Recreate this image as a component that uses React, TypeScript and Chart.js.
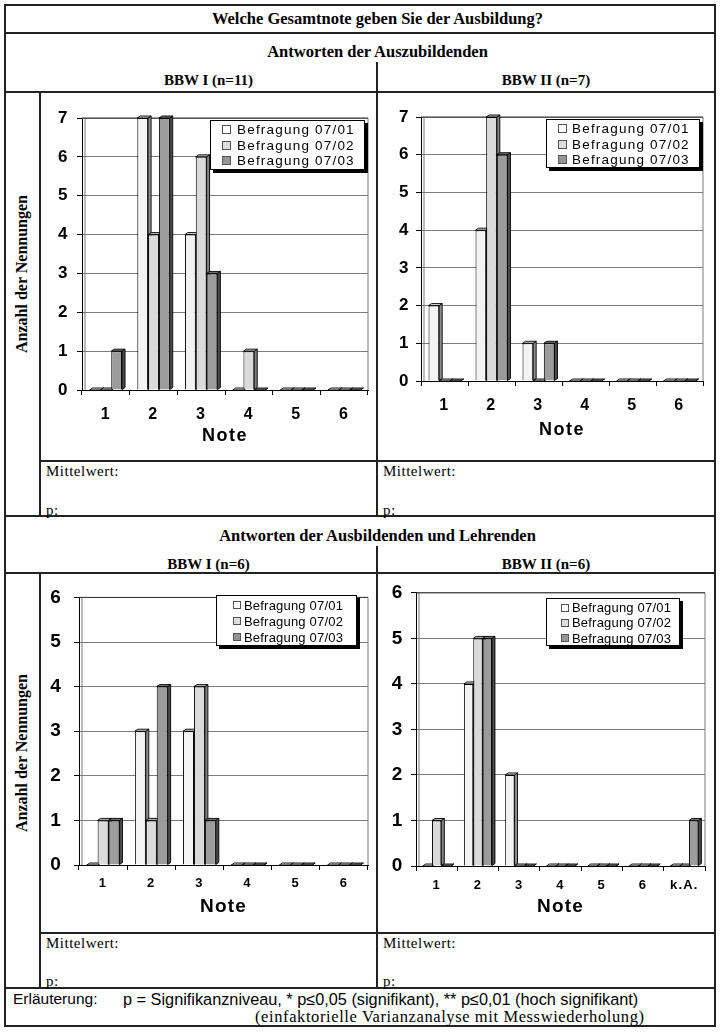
import React, { useEffect, useRef } from "react";
import { Chart, registerables } from "chart.js";

Chart.register(...registerables);

// ---------- data ----------
const seriesNames = ["Befragung 07/01", "Befragung 07/02", "Befragung 07/03"];
const noteLabels = ["1", "2", "3", "4", "5", "6"];
const noteLabelsKA = ["1", "2", "3", "4", "5", "6", "k.A."];

// Antworten der Auszubildenden, BBW I (n=11)
const azubiBBW1_0701 = [0, 7, 4, 0, 0, 0];
const azubiBBW1_0702 = [0, 4, 6, 1, 0, 0];
const azubiBBW1_0703 = [1, 7, 3, 0, 0, 0];

// Antworten der Auszubildenden, BBW II (n=7)
const azubiBBW2_0701 = [2, 4, 1, 0, 0, 0];
const azubiBBW2_0702 = [0, 7, 0, 0, 0, 0];
const azubiBBW2_0703 = [0, 6, 1, 0, 0, 0];

// Antworten der Ausbildenden und Lehrenden, BBW I (n=6)
const lehrBBW1_0701 = [0, 3, 3, 0, 0, 0];
const lehrBBW1_0702 = [1, 1, 4, 0, 0, 0];
const lehrBBW1_0703 = [1, 4, 1, 0, 0, 0];

// Antworten der Ausbildenden und Lehrenden, BBW II (n=6)
const lehrBBW2_0701 = [0, 4, 2, 0, 0, 0, 0];
const lehrBBW2_0702 = [1, 5, 0, 0, 0, 0, 0];
const lehrBBW2_0703 = [0, 5, 0, 0, 0, 0, 1];

// ---------- styles ----------
const SERIF = '"Liberation Serif", "Times New Roman", serif';
const SANS = '"Liberation Sans", Arial, sans-serif';
const FRONT = ["#f3f3f3", "#dadada", "#9c9c9c"];
const SIDE = ["#8e8e8e", "#808080", "#4a4a4a"];
const TOPC = ["#d6d6d6", "#bdbdbd", "#777777"];
const SWATCH = ["#ffffff", "#dcdcdc", "#969696"];

const threeD = {
  id: "threeD",
  beforeDatasetsDraw(chart: any) {
    const ctx = chart.ctx;
    const dx = 3;
    const dy = 2;
    chart.data.datasets.forEach((_ds: any, i: number) => {
      const meta = chart.getDatasetMeta(i);
      meta.data.forEach((bar: any) => {
        const { x, y, base, width } = bar.getProps(["x", "y", "base", "width"], true);
        const l = x - width / 2;
        const r = x + width / 2;
        ctx.save();
        ctx.lineWidth = 0.9;
        ctx.strokeStyle = "#000";
        ctx.beginPath();
        ctx.moveTo(r, y);
        ctx.lineTo(r + dx, y - dy);
        ctx.lineTo(r + dx, base - dy);
        ctx.lineTo(r, base);
        ctx.closePath();
        ctx.fillStyle = SIDE[i];
        ctx.fill();
        ctx.stroke();
        ctx.beginPath();
        ctx.moveTo(l, y);
        ctx.lineTo(l + dx, y - dy);
        ctx.lineTo(r + dx, y - dy);
        ctx.lineTo(r, y);
        ctx.closePath();
        ctx.fillStyle = TOPC[i];
        ctx.fill();
        ctx.stroke();
        ctx.restore();
      });
    });
  },
};

const frame = {
  id: "frame",
  beforeDatasetsDraw(chart: any) {
    const { ctx, chartArea: a } = chart;
    ctx.save();
    ctx.strokeStyle = "#7a7a7a";
    ctx.lineWidth = 1;
    ctx.beginPath();
    ctx.moveTo(a.right, a.top);
    ctx.lineTo(a.right, a.bottom);
    ctx.moveTo(a.left + 3, a.top);
    ctx.lineTo(a.left + 3, a.bottom);
    ctx.stroke();
    ctx.strokeStyle = "#333";
    ctx.beginPath();
    ctx.moveTo(a.left, a.top);
    ctx.lineTo(a.right, a.top);
    ctx.stroke();
    ctx.restore();
  },
};

const spacing = {
  id: "spacing",
  beforeDraw(chart: any, _a: any, opts: any) {
    chart.ctx.letterSpacing = opts.ls || "0px";
  },
  afterDraw(chart: any) {
    chart.ctx.letterSpacing = "0px";
  },
};

type Layout = {
  left: number; top: number; w: number; h: number;
  yW: number; padTop: number; padRight: number; xH: number;
  yPad: number; xPad: number; titlePad: number;
  yFont: number; xFont: number; titleFont: number; ls: string;
  legend: { left: number; top: number; w: number; h: number; padTop: number; padLeft: number; sw: number; gap: number; font: number; ls: number; rowH: number };
};

function BarChart({ labels, series, yMax, L }: { labels: string[]; series: number[][]; yMax: number; L: Layout }) {
  const ref = useRef<HTMLCanvasElement | null>(null);
  useEffect(() => {
    if (!ref.current) return;
    const chart = new Chart(ref.current, {
      type: "bar",
      data: {
        labels,
        datasets: series.map((d, i) => ({
          label: seriesNames[i],
          data: d,
          backgroundColor: FRONT[i],
          borderColor: "#000",
          borderWidth: 1,
          barPercentage: 1,
          categoryPercentage: 0.68,
        })),
      },
      options: {
        responsive: false,
        animation: false,
        layout: { padding: { left: 0, top: L.padTop, right: L.padRight, bottom: 0 } },
        plugins: {
          legend: { display: false },
          tooltip: { enabled: false },
          spacing: { ls: L.ls },
        } as any,
        scales: {
          x: {
            grid: { drawOnChartArea: false, drawTicks: true, tickLength: 5, tickColor: "#000", offset: true },
            border: { color: "#000", width: 1 },
            ticks: { color: "#000", font: { family: SANS, weight: "bold", size: L.xFont }, padding: L.xPad, maxRotation: 0, autoSkip: false },
            title: { display: true, text: "Note", color: "#000", font: { family: SANS, weight: "bold", size: L.titleFont }, padding: { top: 0, bottom: L.titlePad } },
            afterFit: (s: any) => { s.height = L.xH; },
          },
          y: {
            min: 0,
            max: yMax,
            ticks: { stepSize: 1, color: "#000", font: { family: SANS, weight: "bold", size: L.yFont }, padding: L.yPad },
            grid: { color: "#7c7c7c", tickColor: "#000", tickLength: 5, lineWidth: 1 },
            border: { color: "#000", width: 1 },
            afterFit: (s: any) => { s.width = L.yW; },
          },
        },
      } as any,
      plugins: [frame, threeD, spacing],
    });
    return () => chart.destroy();
  }, []);
  const lg = L.legend;
  return (
    <>
      <canvas ref={ref} width={L.w} height={L.h} style={{ position: "absolute", left: L.left, top: L.top, width: L.w, height: L.h }} />
      <div style={{ position: "absolute", left: lg.left, top: lg.top, width: lg.w, height: lg.h, boxSizing: "border-box", border: "1px solid #000", background: "#fff", boxShadow: "3px 3px 0 #000", paddingTop: lg.padTop, paddingLeft: lg.padLeft }}>
        {seriesNames.map((n, i) => (
          <div key={n} style={{ display: "flex", alignItems: "center", height: lg.rowH, fontFamily: SANS, fontSize: lg.font, letterSpacing: lg.ls, color: "#000", whiteSpace: "nowrap" }}>
            <span style={{ display: "inline-block", width: lg.sw, height: lg.sw, boxSizing: "border-box", border: "1px solid #555", background: SWATCH[i], marginRight: lg.gap }} />
            {n}
          </div>
        ))}
      </div>
    </>
  );
}

const L1: Layout = {
  left: 41, top: 93, w: 335, h: 367, yW: 41, padTop: 25, padRight: 8, xH: 70, yPad: 8, xPad: 9.5, titlePad: 13,
  yFont: 17, xFont: 16, titleFont: 18, ls: "1.5px",
  legend: { left: 210, top: 120, w: 155, h: 50, padTop: 1, padLeft: 11, sw: 9, gap: 6, font: 13.5, ls: 1.2, rowH: 15.6 },
};
const L2: Layout = {
  left: 378, top: 93, w: 336, h: 367, yW: 43, padTop: 24, padRight: 11, xH: 79, yPad: 6, xPad: 9.5, titlePad: 19,
  yFont: 17, xFont: 16, titleFont: 18, ls: "1.5px",
  legend: { left: 546, top: 119, w: 154, h: 49, padTop: 1, padLeft: 11, sw: 9, gap: 5, font: 13.5, ls: 1.2, rowH: 15.4 },
};
const L3: Layout = {
  left: 41, top: 574, w: 335, h: 358, yW: 38, padTop: 16, padRight: 8, xH: 67, yPad: 12, xPad: 5.5, titlePad: 13.6,
  yFont: 19, xFont: 13, titleFont: 19, ls: "1.2px",
  legend: { left: 216, top: 595, w: 141, h: 51, padTop: 1, padLeft: 16, sw: 8, gap: 3, font: 13, ls: 0.2, rowH: 16 },
};
const L4: Layout = {
  left: 378, top: 574, w: 336, h: 358, yW: 38, padTop: 17, padRight: 9, xH: 66, yPad: 7.5, xPad: 6.5, titlePad: 13.6,
  yFont: 19, xFont: 13, titleFont: 19, ls: "1.2px",
  legend: { left: 546, top: 598, w: 134, h: 48, padTop: 1, padLeft: 14, sw: 8, gap: 3, font: 13, ls: 0.2, rowH: 15.3 },
};

const LINE = "#222";
function H({ x1, x2, y, t = 2 }: { x1: number; x2: number; y: number; t?: number }) {
  return <div style={{ position: "absolute", left: x1, top: y - t / 2, width: x2 - x1, height: t, background: LINE }} />;
}
function V({ x, y1, y2, t = 2 }: { x: number; y1: number; y2: number; t?: number }) {
  return <div style={{ position: "absolute", left: x - t / 2, top: y1, width: t, height: y2 - y1, background: LINE }} />;
}
function T({ x, y, w, align = "left", style, children }: any) {
  return (
    <div style={{ position: "absolute", left: x, top: y - 11, width: w, height: 22, lineHeight: "22px", textAlign: align, whiteSpace: "nowrap", color: "#000", ...style }}>
      {children}
    </div>
  );
}

const headSerif = { fontFamily: SERIF, fontWeight: "bold", fontSize: 16.5 };
const boldSerif = { fontFamily: SERIF, fontWeight: "bold", fontSize: 15 };
const plainSerif = { fontFamily: SERIF, fontSize: 15, letterSpacing: 0.5 };

export default function App() {
  return (
    <div style={{ position: "absolute", left: 0, top: 0, width: 720, height: 1032, background: "#fff", overflow: "hidden" }}>
      {/* table lines */}
      <H x1={4} x2={716} y={5} />
      <H x1={4} x2={716} y={33} />
      <H x1={4} x2={716} y={92} />
      <H x1={40} x2={716} y={461} />
      <H x1={4} x2={716} y={516} t={2.5} />
      <H x1={4} x2={716} y={573} />
      <H x1={40} x2={716} y={933} />
      <H x1={4} x2={716} y={988} />
      <H x1={4} x2={716} y={1026} />
      <V x={5} y1={5} y2={1026} />
      <V x={715} y1={5} y2={1026} />
      <V x={40} y1={92} y2={516} />
      <V x={40} y1={573} y2={988} />
      <V x={377} y1={62} y2={516} />
      <V x={377} y1={546} y2={988} />

      {/* headers */}
      <T x={40} y={19} w={675} align="center" style={headSerif}>Welche Gesamtnote geben Sie der Ausbildung?</T>
      <T x={40} y={52} w={675} align="center" style={headSerif}>Antworten der Auszubildenden</T>
      <T x={40} y={80} w={337} align="center" style={boldSerif}>BBW I (n=11)</T>
      <T x={377} y={80} w={338} align="center" style={boldSerif}>BBW II (n=7)</T>
      <T x={40} y={536} w={675} align="center" style={headSerif}>Antworten der Ausbildenden und Lehrenden</T>
      <T x={40} y={564} w={337} align="center" style={boldSerif}>BBW I (n=6)</T>
      <T x={377} y={564} w={338} align="center" style={boldSerif}>BBW II (n=6)</T>

      {/* rotated y-axis labels */}
      <div style={{ position: "absolute", left: 22, top: 274, transform: "translate(-50%, -50%) rotate(-90deg)", whiteSpace: "nowrap", ...boldSerif, fontSize: 16 }}>Anzahl der Nennungen</div>
      <div style={{ position: "absolute", left: 22, top: 753, transform: "translate(-50%, -50%) rotate(-90deg)", whiteSpace: "nowrap", ...boldSerif, fontSize: 16 }}>Anzahl der Nennungen</div>

      {/* charts */}
      <BarChart labels={noteLabels} series={[azubiBBW1_0701, azubiBBW1_0702, azubiBBW1_0703]} yMax={7} L={L1} />
      <BarChart labels={noteLabels} series={[azubiBBW2_0701, azubiBBW2_0702, azubiBBW2_0703]} yMax={7} L={L2} />
      <BarChart labels={noteLabels} series={[lehrBBW1_0701, lehrBBW1_0702, lehrBBW1_0703]} yMax={6} L={L3} />
      <BarChart labels={noteLabelsKA} series={[lehrBBW2_0701, lehrBBW2_0702, lehrBBW2_0703]} yMax={6} L={L4} />

      {/* Mittelwert rows */}
      <T x={46} y={471} style={plainSerif}>Mittelwert:</T>
      <T x={46} y={510} style={plainSerif}>p:</T>
      <T x={383} y={471} style={plainSerif}>Mittelwert:</T>
      <T x={383} y={510} style={plainSerif}>p:</T>
      <T x={46} y={943} style={plainSerif}>Mittelwert:</T>
      <T x={46} y={981} style={plainSerif}>p:</T>
      <T x={383} y={943} style={plainSerif}>Mittelwert:</T>
      <T x={383} y={981} style={plainSerif}>p:</T>

      {/* footer */}
      <T x={13} y={999} style={{ fontFamily: SANS, fontSize: 15.5 }}>Erläuterung:</T>
      <T x={123} y={999} style={{ fontFamily: SANS, fontSize: 16.3 }}>p = Signifikanzniveau, * p≤0,05 (signifikant), ** p≤0,01 (hoch signifikant)</T>
      <T x={255} y={1017} style={{ fontFamily: SERIF, fontSize: 16.5, letterSpacing: 0.6 }}>(einfaktorielle Varianzanalyse mit Messwiederholung)</T>
    </div>
  );
}
